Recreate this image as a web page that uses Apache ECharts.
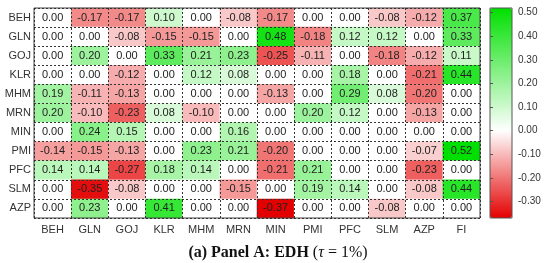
<!DOCTYPE html>
<html>
<head>
<meta charset="utf-8">
<script src="https://cdn.jsdelivr.net/npm/echarts@6/dist/echarts.min.js"></script>
<style>
  html, body { margin: 0; padding: 0; background: #fff; }
  #main { width: 550px; height: 263px; }
</style>
</head>
<body>
<div id="main"></div>
<script>
var rowNames = ['BEH', 'GLN', 'GOJ', 'KLR', 'MHM', 'MRN', 'MIN', 'PMI', 'PFC', 'SLM', 'AZP'];
var colNames = ['BEH', 'GLN', 'GOJ', 'KLR', 'MHM', 'MRN', 'MIN', 'PMI', 'PFC', 'SLM', 'AZP', 'FI'];

// one row per source, one value per column
var valBEH = [0.00, -0.17, -0.17, 0.10, 0.00, -0.08, -0.17, 0.00, 0.00, -0.08, -0.12, 0.37];
var valGLN = [0.00, 0.00, -0.08, -0.15, -0.15, 0.00, 0.48, -0.18, 0.12, 0.12, 0.00, 0.33];
var valGOJ = [0.00, 0.20, 0.00, 0.33, 0.21, 0.23, -0.25, -0.11, 0.00, -0.18, -0.12, 0.11];
var valKLR = [0.00, 0.00, -0.12, 0.00, 0.12, 0.08, 0.00, 0.00, 0.18, 0.00, -0.21, 0.44];
var valMHM = [0.19, -0.11, -0.13, 0.00, 0.00, 0.00, -0.13, 0.00, 0.29, 0.08, -0.20, 0.00];
var valMRN = [0.20, -0.10, -0.23, 0.08, -0.10, 0.00, 0.00, 0.20, 0.12, 0.00, -0.13, 0.00];
var valMIN = [0.00, 0.24, 0.15, 0.00, 0.00, 0.16, 0.00, 0.00, 0.00, 0.00, 0.00, 0.00];
var valPMI = [-0.14, -0.15, -0.13, 0.00, 0.23, 0.21, -0.20, 0.00, 0.00, 0.00, -0.07, 0.52];
var valPFC = [0.14, 0.14, -0.27, 0.18, 0.14, 0.00, -0.21, 0.21, 0.00, 0.00, -0.23, 0.00];
var valSLM = [0.00, -0.35, -0.08, 0.00, 0.00, -0.15, 0.00, 0.19, 0.14, 0.00, -0.08, 0.44];
var valAZP = [0.00, 0.23, 0.00, 0.41, 0.00, 0.00, -0.37, 0.00, 0.00, -0.08, 0.00, 0.00];

var scaleMin = -0.37;
var scaleMax = 0.52;
var barTicks = [-0.30, -0.20, -0.10, 0.00, 0.10, 0.20, 0.30, 0.40, 0.50];

var rows = [valBEH, valGLN, valGOJ, valKLR, valMHM, valMRN, valMIN, valPMI, valPFC, valSLM, valAZP];
var cells = [];
for (var r = 0; r < rows.length; r++) {
    for (var c = 0; c < colNames.length; c++) {
        cells.push([c, r, rows[r][c]]);
    }
}

// red -> white (at 0) -> green, sampled evenly over the scale
var red = [228, 0, 0], green = [0, 224, 0];
function mix(a, t) {
    var out = [];
    for (var k = 0; k < 3; k++) out.push(Math.round(255 + (a[k] - 255) * t));
    return 'rgb(' + out.join(',') + ')';
}
var stops = [];
var nStops = 90;
for (var i = 0; i < nStops; i++) {
    var v = scaleMin + (scaleMax - scaleMin) * i / (nStops - 1);
    stops.push(v < 0 ? mix(red, v / scaleMin) : mix(green, v / scaleMax));
}

var chart = echarts.init(document.getElementById('main'));
var labFont = 'Liberation Sans';

var option = {
    animation: false,
    textStyle: { fontFamily: labFont },
    title: {
        text: '{b|(a) Panel A: EDH }{r|(}{i|τ}{r| = 1%)}',
        left: 273,
        textAlign: 'center',
        top: 240,
        textStyle: {
            rich: {
                b: { fontFamily: 'Liberation Serif', fontWeight: 'bold', fontSize: 16, color: '#111' },
                r: { fontFamily: 'Liberation Serif', fontWeight: 'normal', fontSize: 16, color: '#111' },
                i: { fontFamily: 'Liberation Serif', fontWeight: 'normal', fontStyle: 'italic', fontSize: 16, color: '#111' }
            }
        }
    },
    grid: [{
        left: 34, top: 8, width: 446, height: 210,
        show: true, borderColor: '#444', borderWidth: 1,
        backgroundColor: 'transparent', z: 3
    }, {
        left: 490, top: 8, width: 22, height: 210,
        show: true, borderColor: '#555', borderWidth: 1,
        backgroundColor: 'transparent', z: 10
    }],
    xAxis: [{
        type: 'category', data: colNames, gridIndex: 0, z: 3,
        axisLine: { show: false },
        axisTick: { inside: true, alignWithLabel: true, length: 3, lineStyle: { color: '#444' } },
        axisLabel: { color: '#333', fontSize: 11, margin: 6 },
        splitLine: { show: true, lineStyle: { color: '#333', type: [2, 2], width: 1 } }
    }, {
        type: 'category', data: colNames, gridIndex: 0, position: 'top', z: 3,
        axisLine: { show: false },
        axisTick: { inside: true, alignWithLabel: true, length: 3, lineStyle: { color: '#444' } },
        axisLabel: { show: false },
        splitLine: { show: false }
    }, {
        type: 'value', gridIndex: 1, show: false, min: 0, max: 1
    }],
    yAxis: [{
        type: 'category', data: rowNames, gridIndex: 0, inverse: true, z: 3,
        axisLine: { show: false },
        axisTick: { inside: true, alignWithLabel: true, length: 3, lineStyle: { color: '#444' } },
        axisLabel: { color: '#333', fontSize: 11, margin: 3 },
        splitLine: { show: true, lineStyle: { color: '#333', type: [2, 2], width: 1 } }
    }, {
        type: 'category', data: rowNames, gridIndex: 0, inverse: true, position: 'right', z: 3,
        axisLine: { show: false },
        axisTick: { inside: true, alignWithLabel: true, length: 3, lineStyle: { color: '#444' } },
        axisLabel: { show: false },
        splitLine: { show: false }
    }, {
        type: 'value', gridIndex: 1, position: 'right', min: scaleMin, max: scaleMax, z: 10,
        axisLine: { show: false },
        axisTick: { show: true, length: 3, customValues: barTicks, lineStyle: { color: '#555' } },
        axisLabel: {
            color: '#333', fontSize: 10, margin: 6, customValues: barTicks,
            formatter: function (v) { return v.toFixed(2); }
        },
        splitLine: { show: false }
    }],
    visualMap: {
        type: 'continuous',
        min: scaleMin, max: scaleMax,
        calculable: false,
        seriesIndex: 0,
        orient: 'vertical',
        left: 490, top: 8,
        itemWidth: 22, itemHeight: 210,
        padding: 0,
        text: null,
        showLabel: false,
        inRange: { color: stops }
    },
    series: [{
        type: 'heatmap',
        xAxisIndex: 0, yAxisIndex: 0,
        data: cells,
        label: {
            show: true, color: '#222', fontSize: 11, fontFamily: labFont,
            formatter: function (p) { return p.value[2].toFixed(2); }
        },
        itemStyle: { borderWidth: 0 }
    }]
};
chart.setOption(option);
</script>
</body>
</html>
